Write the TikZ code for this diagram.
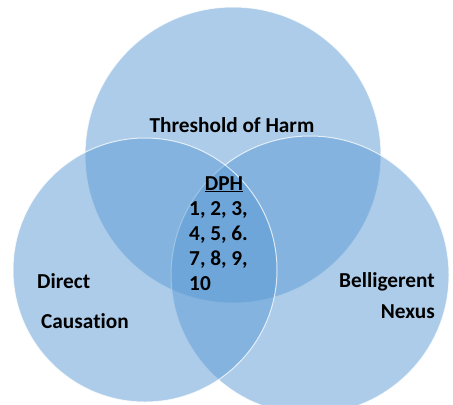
\documentclass[tikz,border=0pt]{standalone}
\usepackage{fontspec}
\setmainfont[Ligatures=NoCommon]{Carlito}
\definecolor{vennblue}{RGB}{91,155,213}
\begin{document}
\begin{tikzpicture}[x=1bp,y=-1bp,
  venn/.style={fill=vennblue, fill opacity=0.5, draw=white, draw opacity=0.75, line width=1bp},
  lbl/.style={font=\bfseries\fontsize{21.3bp}{25bp}\selectfont, inner sep=0pt, text=black}]
\useasboundingbox (0,0) rectangle (453,404);
\fill[white] (0,0) rectangle (453,404);
\begin{scope}
\clip (0,0) rectangle (453,404);
\path[venn] (233,155) circle [radius=148];
\path[venn] (310,275) circle [radius=139];
\path[venn] (145,270) circle [radius=132];
\end{scope}
\node[lbl, anchor=base] (thr) at (232,132) {Threshold of Harm};
\node[lbl, anchor=base] (dph) at (224,190) {\underline{DPH}};
\node[lbl, anchor=base west] (n1) at (189,215) {1, 2, 3,};
\node[lbl, anchor=base west] (n2) at (189,240) {4, 5, 6.};
\node[lbl, anchor=base west] (n3) at (189,265) {7, 8, 9,};
\node[lbl, anchor=base west] (n4) at (189,290) {10};
\node[lbl, anchor=base west] (dir) at (37,288) {Direct};
\node[lbl, anchor=base west] (cau) at (41,328) {Causation};
\node[lbl, anchor=base east] (bel) at (435,287) {Belligerent};
\node[lbl, anchor=base east] (nex) at (435,318) {Nexus};
\end{tikzpicture}
\end{document}
